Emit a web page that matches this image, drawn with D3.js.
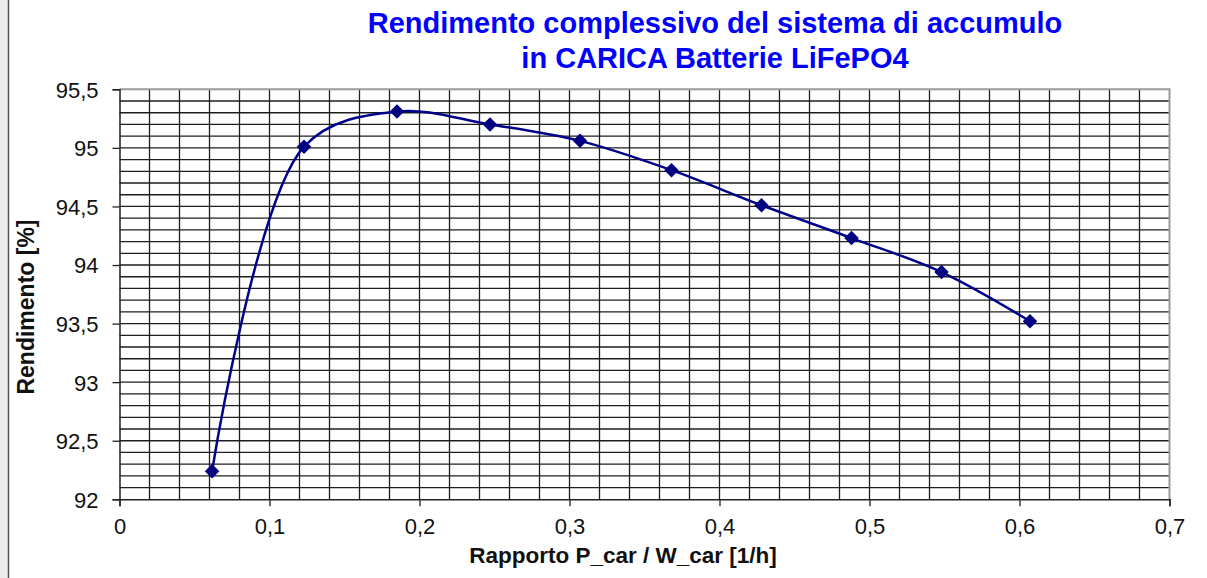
<!DOCTYPE html>
<html>
<head>
<meta charset="utf-8">
<script src="https://cdn.jsdelivr.net/npm/d3@7"></script>
<style>
  html, body { margin: 0; padding: 0; background: #fff; }
  svg { display: block; font-family: "Liberation Sans", Arial, sans-serif; }
</style>
</head>
<body>
<svg id="chart" width="1207" height="578"></svg>
<script>
// values
const ratio = [0.0617, 0.123, 0.185, 0.247, 0.307, 0.368, 0.428, 0.488, 0.548, 0.607];
const efficiency = [92.24, 95.01, 95.31, 95.2, 95.06, 94.81, 94.51, 94.23, 93.94, 93.52];
const xTicks = [0, 0.1, 0.2, 0.3, 0.4, 0.5, 0.6, 0.7];
const yTicks = [92, 92.5, 93, 93.5, 94, 94.5, 95, 95.5];
const titleLines = ["Rendimento complessivo del sistema di accumulo", "in CARICA Batterie LiFePO4"];

const width = 1207, height = 578;
const margin = { top: 89.3, right: 37.5, bottom: 78.7, left: 119.5 };
const innerW = width - margin.left - margin.right;
const innerH = height - margin.top - margin.bottom;

const it = d3.formatLocale({ decimal: ",", thousands: ".", grouping: [3], currency: ["", "€"] });
const fmt = it.format("~g");

const svg = d3.select("#chart");

// grey strip at the left edge
svg.append("rect").attr("x", 0).attr("y", 0).attr("width", 8).attr("height", height).attr("fill", "#ebebeb");
svg.append("line").attr("x1", 8.5).attr("x2", 8.5).attr("y1", 0).attr("y2", height)
  .attr("stroke", "#555").attr("stroke-width", 1.5);

const x = d3.scaleLinear().domain([0, 0.7]).range([0, innerW]);
const y = d3.scaleLinear().domain([92, 95.5]).range([innerH, 0]);

const chart = svg.append("g").attr("transform", `translate(${margin.left}, ${margin.top})`);

// grid every 0.02 / 0.1
const vGrid = d3.range(1, 35).map((i) => i * 0.02);
const hGrid = d3.range(1, 35).map((i) => 92 + i * 0.1);

chart.append("g").selectAll("line").data(vGrid).join("line")
  .attr("x1", (d) => x(d)).attr("x2", (d) => x(d))
  .attr("y1", 0).attr("y2", innerH)
  .attr("stroke", "#1e1e1e").attr("stroke-width", 1.3);

chart.append("g").selectAll("line").data(hGrid).join("line")
  .attr("x1", 0).attr("x2", innerW)
  .attr("y1", (d) => y(d)).attr("y2", (d) => y(d))
  .attr("stroke", "#1e1e1e").attr("stroke-width", 1.3);

// top & right border
chart.append("path")
  .attr("d", `M0,${y(95.5)}H${x(0.7)}V${y(92)}`)
  .attr("fill", "none").attr("stroke", "#9a9a9a").attr("stroke-width", 2);

// axes
const xAxis = chart.append("g")
  .attr("transform", `translate(0, ${innerH})`)
  .call(d3.axisBottom(x).tickValues(xTicks).tickFormat(fmt).tickSize(7).tickPadding(12));
const yAxis = chart.append("g")
  .call(d3.axisLeft(y).tickValues(yTicks).tickFormat(fmt).tickSize(7).tickPadding(14));

[xAxis, yAxis].forEach((a) => {
  a.select(".domain").attr("stroke", "#222").attr("stroke-width", 1.5);
  a.selectAll(".tick line").attr("stroke", "#222").attr("stroke-width", 1.3);
  a.selectAll(".tick text").attr("fill", "#111").style("font-size", "22px")
    .style("font-family", "'Liberation Sans', Arial, sans-serif");
});
xAxis.selectAll(".tick text").attr("dy", "0.71em");
yAxis.selectAll(".tick text").attr("dy", "0.36em");

// curve
const points = ratio.map((r, i) => [r, efficiency[i]]);
const line = d3.line()
  .x((d) => x(d[0]))
  .y((d) => y(d[1]))
  .curve(d3.curveCatmullRom.alpha(0.5));

chart.append("path").datum(points)
  .attr("d", line)
  .attr("fill", "none").attr("stroke", "#000088").attr("stroke-width", 2.5);

chart.append("g").selectAll("path").data(points).join("path")
  .attr("d", d3.symbol(d3.symbolSquare, 105))
  .attr("transform", (d) => `translate(${x(d[0])}, ${y(d[1])}) rotate(45)`)
  .attr("fill", "#000080");

// titles
svg.append("g").selectAll("text").data(titleLines).join("text")
  .attr("x", 715).attr("y", (d, i) => 33 + i * 34.5)
  .attr("text-anchor", "middle")
  .attr("fill", "#0000ff").style("font-size", "29px").style("font-weight", "bold")
  .text((d) => d);

svg.append("text")
  .attr("x", 623).attr("y", 563)
  .attr("text-anchor", "middle").attr("fill", "#111")
  .style("font-size", "22.5px").style("font-weight", "bold")
  .text("Rapporto P_car / W_car [1/h]");

svg.append("text")
  .attr("transform", "translate(33.5, 307) rotate(-90)")
  .attr("text-anchor", "middle").attr("fill", "#111")
  .style("font-size", "23px").style("font-weight", "bold")
  .text("Rendimento [%]");
</script>
</body>
</html>
